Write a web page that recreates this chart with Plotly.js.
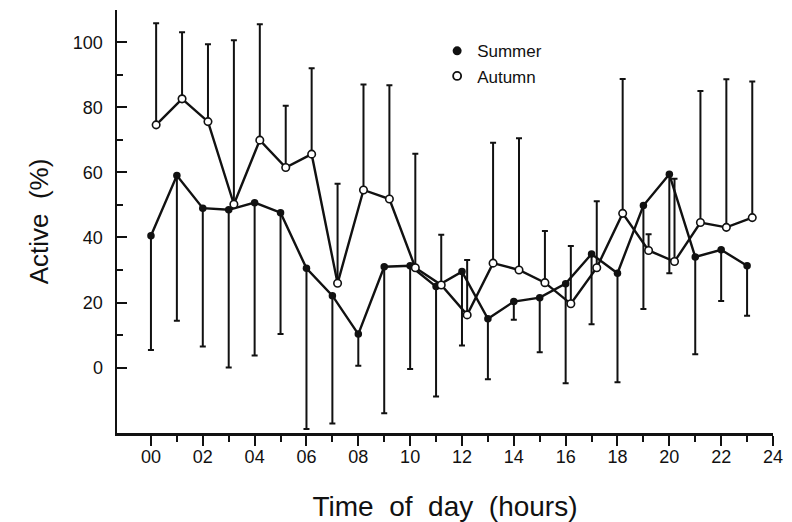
<!DOCTYPE html>
<html>
<head>
<meta charset="utf-8">
<script src="https://cdn.plot.ly/plotly-3.0.1.min.js"></script>
<style>
  html, body { margin: 0; padding: 0; background: #fff; }
  #chart { width: 792px; height: 522px; }
</style>
</head>
<body>
<div id="chart"></div>
<script>
// ---- data ----
const hours = [0,1,2,3,4,5,6,7,8,9,10,11,12,13,14,15,16,17,18,19,20,21,22,23];
const summerMean  = [40.5,59.0,49.0,48.5,50.7,47.6,30.5,22.1,10.3,31.0,31.3,24.9,29.5,15.0,20.3,21.5,25.8,34.9,29.0,49.8,59.4,34.0,36.2,31.3];
const summerLower = [5.4,14.4,6.5,0.0,3.7,10.3,-18.9,-17.2,0.6,-14.0,-0.4,-8.9,6.8,-3.6,14.7,4.7,-4.8,13.3,-4.5,18.0,29.0,4.1,20.5,15.9];
const autumnMean  = [74.6,82.6,75.6,50.2,69.9,61.5,65.6,25.9,54.6,51.8,30.7,25.4,16.2,32.1,30.0,26.1,19.6,30.7,47.4,36.0,32.6,44.6,43.1,46.1];
const autumnUpper = [105.8,103.1,99.4,100.6,105.5,80.5,92.0,56.5,87.0,86.8,65.7,40.8,33.1,69.1,70.5,42.0,37.4,51.1,88.7,41.0,58.0,85.0,88.6,87.9];
const xTickVals = [0,2,4,6,8,10,12,14,16,18,20,22,24];
const xTickText = ['00','02','04','06','08','10','12','14','16','18','20','22','24'];
const yTickVals = [0,20,40,60,80,100];
const seriesNames = ['Summer','Autumn'];

// ---- styling ----
const AUTUMN_OFFSET = 0.2;  // autumn points are drawn slightly right of the hour
const ink = '#111111';
const fontFam = '"Liberation Sans", Arial, Helvetica, sans-serif';

const summerTrace = {
  x: hours, y: summerMean, mode: 'lines+markers', type: 'scatter',
  name: seriesNames[0], showlegend: false,
  line: {color: ink, width: 2.4},
  marker: {symbol: 'circle', size: 7.5, color: ink},
  error_y: {type: 'data', symmetric: false,
    array: hours.map(() => 0),
    arrayminus: summerMean.map((m, i) => m - summerLower[i]),
    color: ink, thickness: 2, width: 3}
};
const autumnTrace = {
  x: hours.map(h => h + AUTUMN_OFFSET), y: autumnMean, mode: 'lines+markers', type: 'scatter',
  name: seriesNames[1], showlegend: false,
  line: {color: ink, width: 2.4},
  marker: {symbol: 'circle', size: 7.5, color: '#ffffff', line: {color: ink, width: 1.6}},
  error_y: {type: 'data', symmetric: false,
    array: autumnUpper.map((u, i) => u - autumnMean[i]),
    arrayminus: hours.map(() => 0),
    color: ink, thickness: 2, width: 3}
};
const legSummer = {x: [null], y: [null], mode: 'markers', type: 'scatter', name: seriesNames[0],
  marker: {symbol: 'circle', size: 9, color: ink}};
const legAutumn = {x: [null], y: [null], mode: 'markers', type: 'scatter', name: seriesNames[1],
  marker: {symbol: 'circle', size: 8, color: '#ffffff', line: {color: ink, width: 1.8}}};

const layout = {
  width: 792, height: 522,
  margin: {l: 117, r: 19, t: 10, b: 89, pad: 0},
  paper_bgcolor: '#ffffff', plot_bgcolor: '#ffffff',
  font: {family: fontFam, color: ink, size: 18},
  showlegend: true,
  legend: {x: 0.488, y: 0.945, xanchor: 'left', yanchor: 'top',
    font: {size: 17, family: fontFam, color: ink}, bgcolor: 'rgba(0,0,0,0)',
    tracegroupgap: 0, itemwidth: 30},
  xaxis: {
    range: [-1.31, 24], showgrid: false, zeroline: false,
    showline: true, linecolor: ink, linewidth: 2.5,
    tickmode: 'array', tickvals: xTickVals, ticktext: xTickText,
    ticks: 'outside', ticklen: 10, tickwidth: 2, tickcolor: ink,
    ticklabelstandoff: -4,
    tickfont: {size: 18, family: fontFam, color: ink},
    minor: {tickmode: 'array', tickvals: [1,3,5,7,9,11,13,15,17,19,21,23],
      ticks: 'outside', ticklen: 6, tickwidth: 2, tickcolor: ink, showgrid: false},
    title: {text: 'Time&nbsp; of&nbsp; day&nbsp; (hours)', font: {size: 28, family: fontFam, color: ink}, standoff: 32}
  },
  yaxis: {
    range: [-20.1, 109.9], showgrid: false, zeroline: false,
    showline: true, linecolor: ink, linewidth: 2.5,
    tickmode: 'array', tickvals: yTickVals,
    ticks: 'inside', ticklen: 10, tickwidth: 2, tickcolor: ink,
    ticklabelstandoff: 8,
    tickfont: {size: 18, family: fontFam, color: ink},
    minor: {tickmode: 'array', tickvals: [10,30,50,70,90],
      ticks: 'inside', ticklen: 6, tickwidth: 2, tickcolor: ink, showgrid: false},
    title: {text: 'Active&nbsp; (%)', font: {size: 26, family: fontFam, color: ink}, standoff: 17}
  }
};

Plotly.newPlot('chart', [summerTrace, autumnTrace, legSummer, legAutumn], layout, {displayModeBar: false, staticPlot: true});
</script>
</body>
</html>
